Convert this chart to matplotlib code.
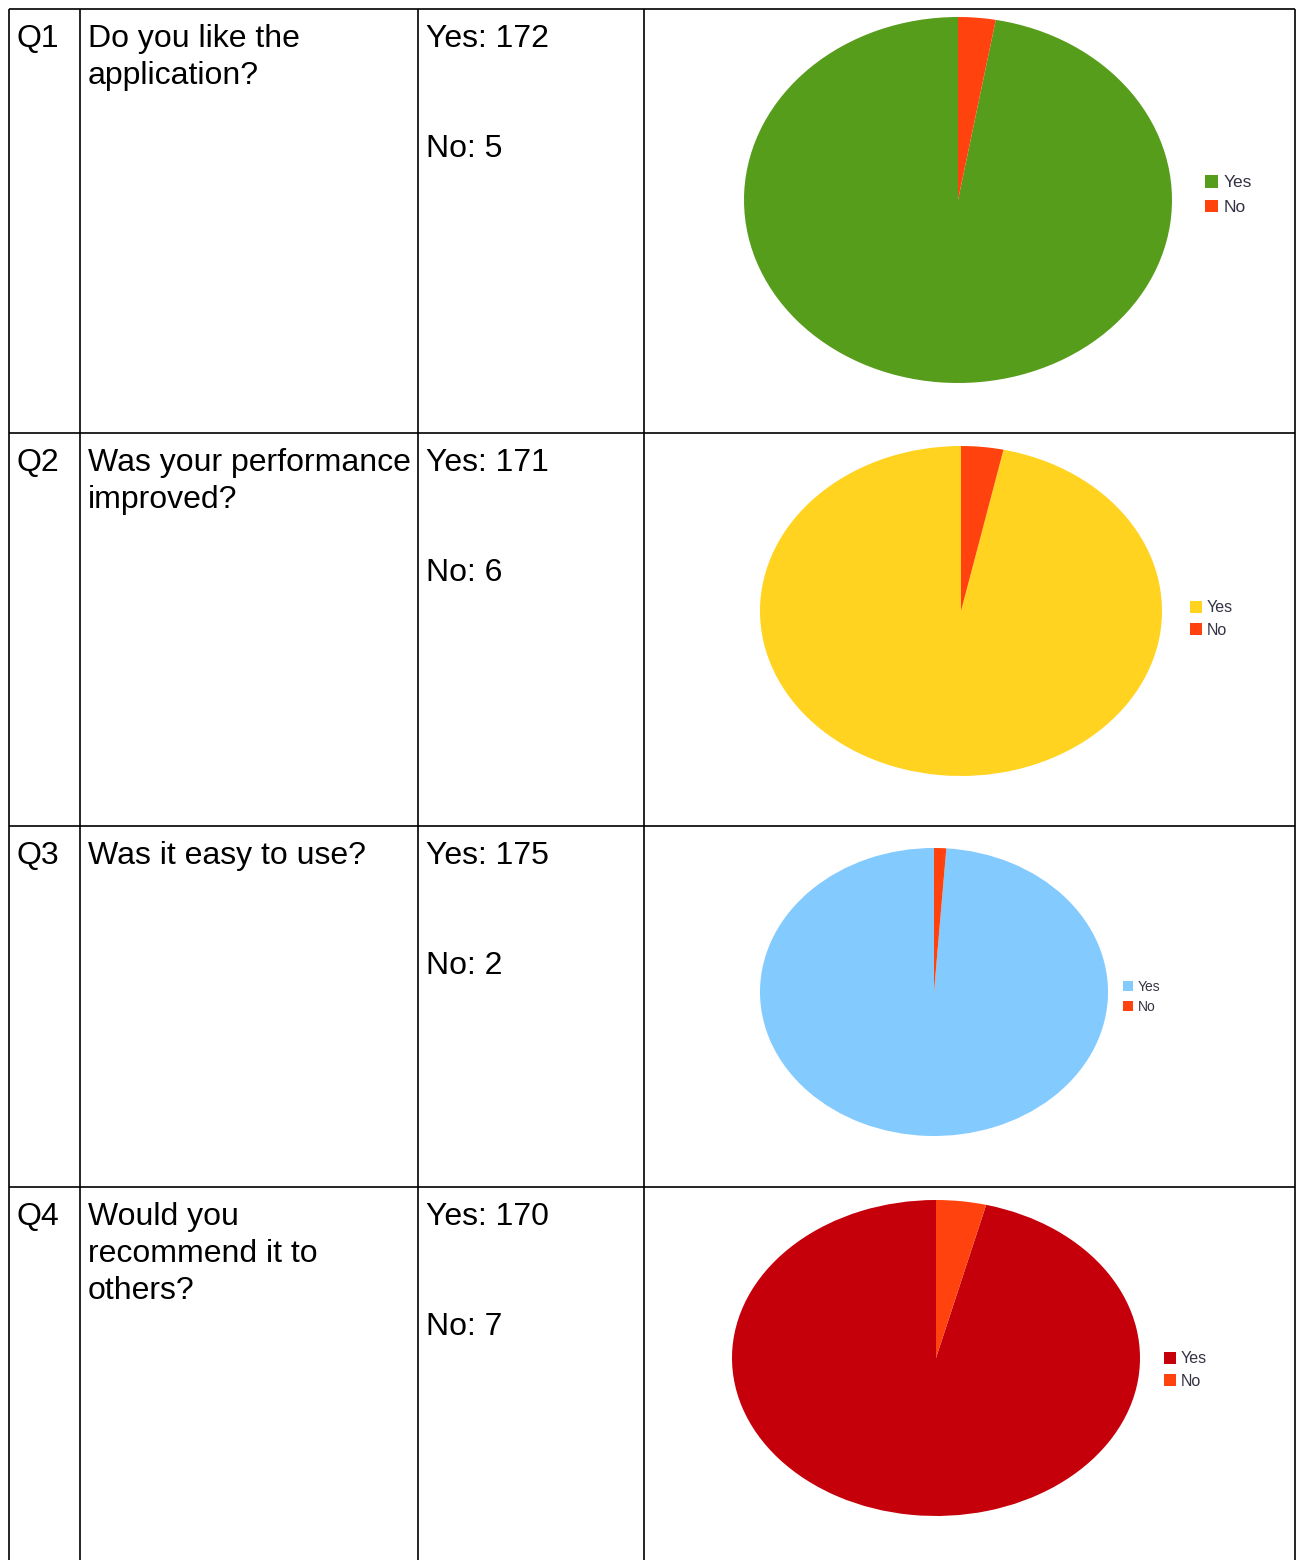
import matplotlib.pyplot as plt

plt.rcParams['font.family'] = ['Liberation Sans', 'DejaVu Sans']

W, H = 1301, 1560

# data
q_ids = ['Q1', 'Q2', 'Q3', 'Q4']
questions = [
    ['Do you like the', 'application?'],
    ['Was your performance', 'improved?'],
    ['Was it easy to use?'],
    ['Would you', 'recommend it to', 'others?'],
]
yes_counts = [172, 171, 175, 170]
no_counts = [5, 6, 2, 7]
yes_colors = ['#579d1c', '#ffd320', '#83caff', '#c5000b']
no_color = '#ff420e'

# layout (pixels)
col_x = [9, 80, 418, 644, 1295]
row_y = [9, 433, 826, 1187]
# pie ellipse boxes: cx, cy, rx, ry
pie_boxes = [(958, 200, 214, 183), (961, 611, 201, 165),
             (934, 992, 174, 144), (936, 1358, 204, 158)]
# legend: left x, center y, font size, label spacing
legend_pos = [(1205, 195, 12.5, 0.55), (1190, 619, 11.5, 0.45),
              (1123, 997, 10, 0.4), (1164, 1370, 11.5, 0.45)]

fig = plt.figure(figsize=(W / 100, H / 100), dpi=100)
ax = fig.add_axes([0, 0, 1, 1])
ax.set_xlim(0, W)
ax.set_ylim(H, 0)
ax.axis('off')

lw = 1.2
for x in col_x:
    ax.plot([x, x], [9, H], color='black', lw=lw, solid_capstyle='butt')
for y in row_y:
    ax.plot([col_x[0], col_x[-1]], [y, y], color='black', lw=lw, solid_capstyle='butt')

fs = 23
line_h = 37
for i in range(4):
    base = row_y[i] + 38
    ax.text(17, base, q_ids[i], fontsize=fs, va='baseline', ha='left')
    for j, line in enumerate(questions[i]):
        ax.text(88, base + j * line_h, line, fontsize=fs, va='baseline', ha='left')
    ax.text(426, base, f'Yes: {yes_counts[i]}', fontsize=fs, va='baseline', ha='left')
    ax.text(426, base + 110, f'No: {no_counts[i]}', fontsize=fs, va='baseline', ha='left')

    cx, cy, rx, ry = pie_boxes[i]
    pax = fig.add_axes([(cx - rx) / W, 1 - (cy + ry) / H, 2 * rx / W, 2 * ry / H])
    wedges, _ = pax.pie([yes_counts[i], no_counts[i]], colors=[yes_colors[i], no_color],
                        startangle=90, counterclock=True, radius=1,
                        wedgeprops=dict(linewidth=0, antialiased=True))
    pax.set_aspect('auto')
    pax.set_xlim(-1, 1)
    pax.set_ylim(-1, 1)
    pax.axis('off')

    lx, ly, lfs, lsp = legend_pos[i]
    leg = pax.legend(wedges, ['Yes', 'No'], loc='center left',
                     bbox_to_anchor=(lx / W, 1 - ly / H), bbox_transform=fig.transFigure,
                     frameon=False, fontsize=lfs, handlelength=0.75, handleheight=0.75,
                     handletextpad=0.3, labelspacing=lsp, borderpad=0, borderaxespad=0)
    for t in leg.get_texts():
        t.set_color('#333344')

fig.savefig('out.png', dpi=100)
